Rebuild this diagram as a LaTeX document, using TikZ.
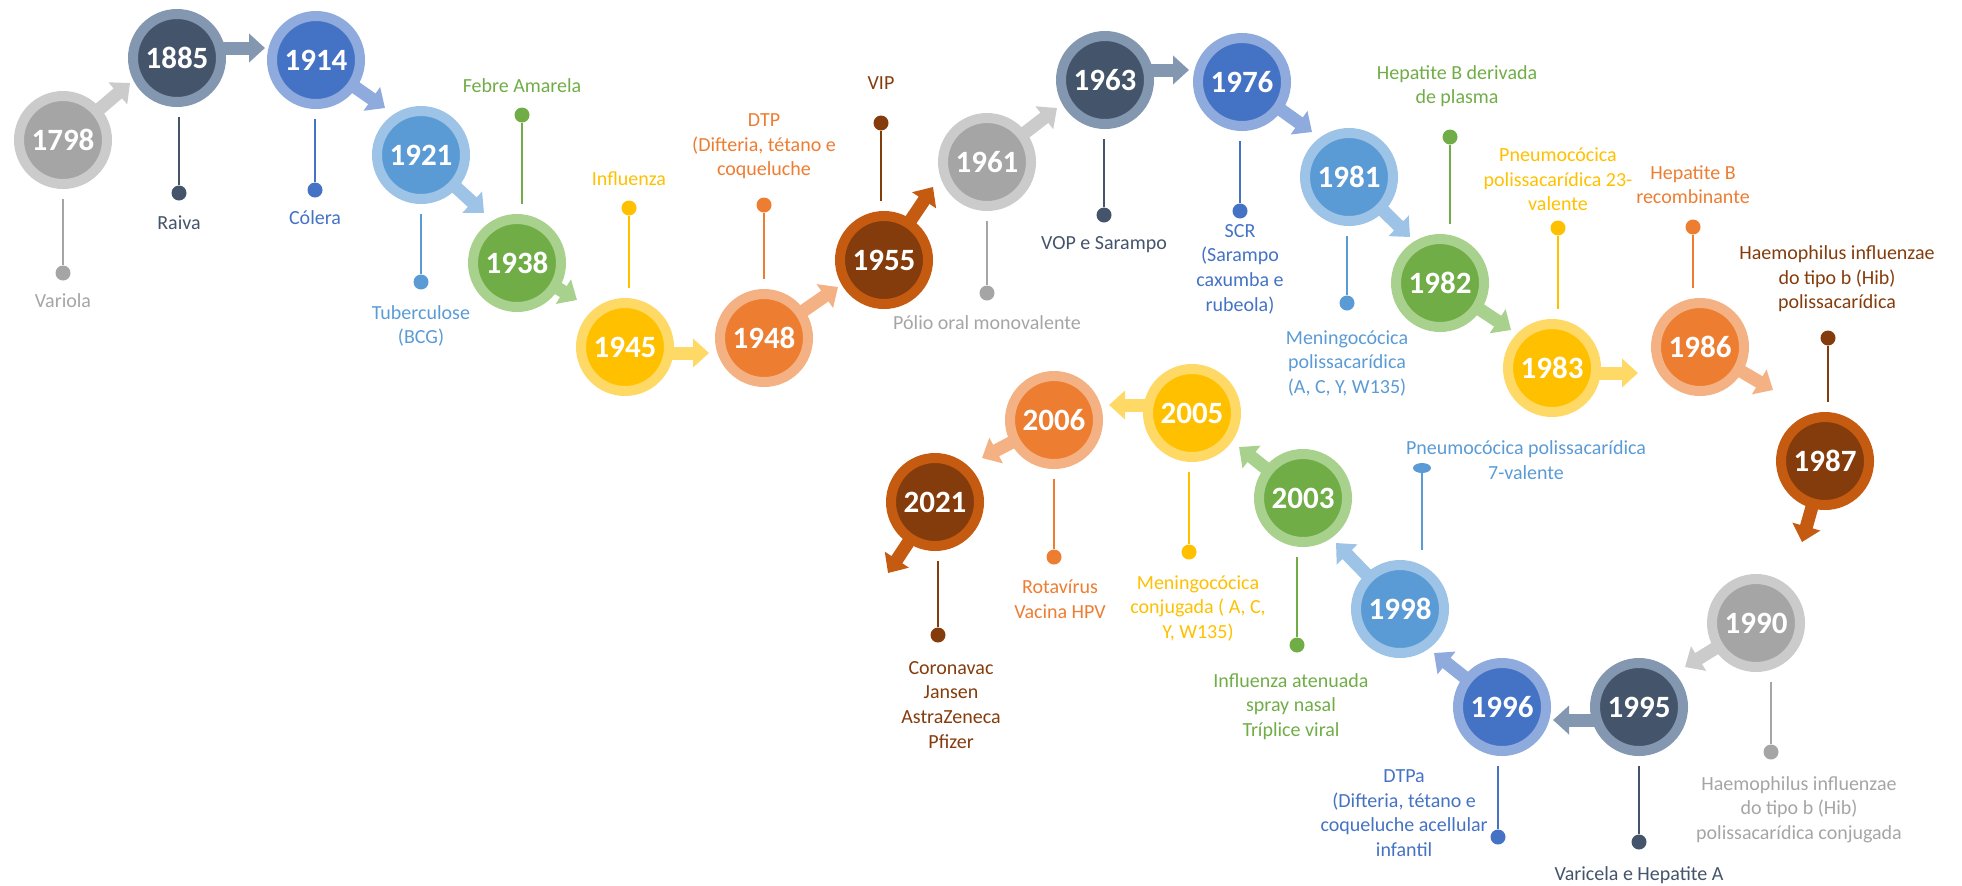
\documentclass[tikz,border=0pt]{standalone}
\usepackage{fontspec}
\setmainfont{Carlito}
\usetikzlibrary{positioning, arrows.meta, backgrounds, shapes.geometric}

\definecolor{cgray}{HTML}{A5A5A5}
\definecolor{cgrayl}{HTML}{CBCBCB}
\definecolor{cslate}{HTML}{44546A}
\definecolor{cslatel}{HTML}{8497B0}
\definecolor{cblue}{HTML}{4472C4}
\definecolor{cbluel}{HTML}{8FAADC}
\definecolor{csky}{HTML}{5B9BD5}
\definecolor{cskyl}{HTML}{9DC3E6}
\definecolor{cgreen}{HTML}{70AD47}
\definecolor{cgreenl}{HTML}{A9D18E}
\definecolor{cyellow}{HTML}{FFC000}
\definecolor{cyellowl}{HTML}{FFD966}
\definecolor{corange}{HTML}{ED7D31}
\definecolor{corangel}{HTML}{F4B183}
\definecolor{cbrown}{HTML}{843C0C}
\definecolor{cbrownl}{HTML}{C55A11}

\begin{document}
\begin{tikzpicture}[
  x=0.5pt, y=-0.5pt,
  font=\fontsize{10}{12.3}\selectfont,
  year/.style={circle, line width=5pt, minimum size=44pt, inner sep=0pt,
               text=white, font=\fontsize{15.5}{18}\selectfont\bfseries},
  yrgray/.style={year, fill=cgray, draw=cgrayl},
  yrslate/.style={year, fill=cslate, draw=cslatel},
  yrblue/.style={year, fill=cblue, draw=cbluel},
  yrsky/.style={year, fill=csky, draw=cskyl},
  yrgreen/.style={year, fill=cgreen, draw=cgreenl},
  yryellow/.style={year, fill=cyellow, draw=cyellowl},
  yrorange/.style={year, fill=corange, draw=corangel},
  yrbrown/.style={year, fill=cbrown, draw=cbrownl},
  yarrow/.style={draw=#1, line width=6.5pt, -{Triangle[width=14pt, length=8pt]}},
  stem/.style={draw=#1, line width=1pt, shorten >=5pt},
  pindot/.style={circle, fill=#1, inner sep=0pt, minimum size=7.5pt},
  lbl/.style={align=center, inner sep=1pt, text=#1},
  lblup/.style={lbl=#1, text depth=3pt},
]

\useasboundingbox (0,0) rectangle (1962,885);

\node[yrgray]   (y1798) at (63,140)   {1798};
\node[yrslate]  (y1885) at (177,58)   {1885};
\node[yrblue]   (y1914) at (316,60)   {1914};
\node[yrsky]    (y1921) at (421,155)  {1921};
\node[yrgreen]  (y1938) at (517,263)  {1938};
\node[yryellow] (y1945) at (625,347)  {1945};
\node[yrorange] (y1948) at (764,338)  {1948};
\node[yrbrown]  (y1955) at (884,260)  {1955};
\node[yrgray]   (y1961) at (987,162)  {1961};
\node[yrslate]  (y1963) at (1105,80)  {1963};
\node[yrblue]   (y1976) at (1242,82)  {1976};
\node[yrsky]    (y1981) at (1349,177) {1981};
\node[yrgreen]  (y1982) at (1440,283) {1982};
\node[yryellow] (y1983) at (1552,368) {1983};
\node[yrorange] (y1986) at (1700,347) {1986};
\node[yrbrown]  (y1987) at (1825,461) {1987};
\node[yrgray]   (y1990) at (1756,623) {1990};
\node[yrslate]  (y1995) at (1639,707) {1995};
\node[yrblue]   (y1996) at (1502,707) {1996};
\node[yrsky]    (y1998) at (1400,609) {1998};
\node[yrgreen]  (y2003) at (1303,498) {2003};
\node[yryellow] (y2005) at (1192,413) {2005};
\node[yrorange] (y2006) at (1054,420) {2006};
\node[yrbrown]  (y2021) at (935,502)  {2021};

\coordinate (t1798) at (130,83);
\coordinate (t1885) at (265,48);
\coordinate (t1914) at (385,108);
\coordinate (t1921) at (484,213);
\coordinate (t1938) at (577,300);
\coordinate (t1945) at (709,353);
\coordinate (t1948) at (838,287);
\coordinate (t1955) at (933,187);
\coordinate (t1961) at (1057,108);
\coordinate (t1963) at (1189,70);
\coordinate (t1976) at (1312,132);
\coordinate (t1981) at (1410,237);
\coordinate (t1982) at (1511,330);
\coordinate (t1983) at (1638,373);
\coordinate (t1986) at (1773,390);
\coordinate (t1987) at (1802,542);
\coordinate (t1990) at (1685,667);
\coordinate (t1995) at (1553,720);
\coordinate (t1996) at (1434,653);
\coordinate (t1998) at (1336,543);
\coordinate (t2003) at (1239,447);
\coordinate (t2005) at (1109,405);
\coordinate (t2006) at (982,458);
\coordinate (t2021) at (888,573);

\begin{scope}[on background layer]
\draw[yarrow=cgrayl]   (y1798.center) -- (t1798);
\draw[yarrow=cslatel]  (y1885 |- t1885) -- (t1885);
\draw[yarrow=cbluel]   (y1914.center) -- (t1914);
\draw[yarrow=cskyl]    (y1921.center) -- (t1921);
\draw[yarrow=cgreenl]  (y1938.center) -- (t1938);
\draw[yarrow=cyellowl] (y1945 |- t1945) -- (t1945);
\draw[yarrow=corangel] (y1948.center) -- (t1948);
\draw[yarrow=cbrownl]  (y1955.center) -- (t1955);
\draw[yarrow=cgrayl]   (y1961.center) -- (t1961);
\draw[yarrow=cslatel]  (y1963 |- t1963) -- (t1963);
\draw[yarrow=cbluel]   (y1976.center) -- (t1976);
\draw[yarrow=cskyl]    (y1981.center) -- (t1981);
\draw[yarrow=cgreenl]  (y1982.center) -- (t1982);
\draw[yarrow=cyellowl] (y1983 |- t1983) -- (t1983);
\draw[yarrow=corangel] (y1986.center) -- (t1986);
\draw[yarrow=cbrownl]  (y1987.center) -- (t1987);
\draw[yarrow=cgrayl]   (y1990.center) -- (t1990);
\draw[yarrow=cslatel]  (y1995 |- t1995) -- (t1995);
\draw[yarrow=cbluel]   (y1996.center) -- (t1996);
\draw[yarrow=cskyl]    (y1998.center) -- (t1998);
\draw[yarrow=cgreenl]  (y2003.center) -- (t2003);
\draw[yarrow=cyellowl] (y2005 |- t2005) -- (t2005);
\draw[yarrow=corangel] (y2006.center) -- (t2006);
\draw[yarrow=cbrownl]  (y2021.center) -- (t2021);
\end{scope}

\node[pindot=cgray]   (d1798) at (63,273)   {};
\node[pindot=cslate]  (d1885) at (179,193)  {};
\node[pindot=cblue]   (d1914) at (315,190)  {};
\node[pindot=csky]    (d1921) at (421,282)  {};
\node[pindot=cgreen]  (d1938) at (522,115)  {};
\node[pindot=cyellow] (d1945) at (629,208)  {};
\node[pindot=corange] (d1948) at (764,205)  {};
\node[pindot=cbrown]  (d1955) at (881,123)  {};
\node[pindot=cgray]   (d1961) at (987,293)  {};
\node[pindot=cslate]  (d1963) at (1104,215) {};
\node[pindot=cblue]   (d1976) at (1240,211) {};
\node[pindot=csky]    (d1981) at (1347,303) {};
\node[pindot=cgreen]  (d1982) at (1450,137) {};
\node[pindot=cyellow] (d1983) at (1558,228) {};
\node[pindot=corange] (d1986) at (1693,227) {};
\node[pindot=cbrown]  (d1987) at (1828,338) {};
\node[pindot=cgray]   (d1990) at (1771,752) {};
\node[pindot=cslate]  (d1995) at (1639,842) {};
\node[pindot=cblue]   (d1996) at (1498,837) {};
\node[pindot=csky, ellipse, minimum width=9pt, minimum height=5pt] (d1998) at (1422,468) {};
\node[pindot=cgreen]  (d2003) at (1297,645) {};
\node[pindot=cyellow] (d2005) at (1189,552) {};
\node[pindot=corange] (d2006) at (1054,557) {};
\node[pindot=cbrown]  (d2021) at (938,635)  {};

\draw[stem=cgray]   (d1798) -- (d1798 |- y1798.south);
\draw[stem=cslate]  (d1885) -- (d1885 |- y1885.south);
\draw[stem=cblue]   (d1914) -- (d1914 |- y1914.south);
\draw[stem=csky]    (d1921) -- (d1921 |- y1921.south);
\draw[stem=cgreen]  (d1938) -- (d1938 |- y1938.north);
\draw[stem=cyellow] (d1945) -- (d1945 |- y1945.north);
\draw[stem=corange] (d1948) -- (d1948 |- y1948.north);
\draw[stem=cbrown]  (d1955) -- (d1955 |- y1955.north);
\draw[stem=cgray]   (d1961) -- (d1961 |- y1961.south);
\draw[stem=cslate]  (d1963) -- (d1963 |- y1963.south);
\draw[stem=cblue]   (d1976) -- (d1976 |- y1976.south);
\draw[stem=csky]    (d1981) -- (d1981 |- y1981.south);
\draw[stem=cgreen]  (d1982) -- (d1982 |- y1982.north);
\draw[stem=cyellow] (d1983) -- (d1983 |- y1983.north);
\draw[stem=corange] (d1986) -- (d1986 |- y1986.north);
\draw[stem=cbrown]  (d1987) -- (d1987 |- y1987.north);
\draw[stem=cgray]   (d1990) -- (d1990 |- y1990.south);
\draw[stem=cslate]  (d1995) -- (d1995 |- y1995.south);
\draw[stem=cblue]   (d1996) -- (d1996 |- y1996.south);
\draw[stem=csky]    (d1998) -- (d1998 |- y1998.north);
\draw[stem=cgreen]  (d2003) -- (d2003 |- y2003.south);
\draw[stem=cyellow] (d2005) -- (d2005 |- y2005.south);
\draw[stem=corange] (d2006) -- (d2006 |- y2006.south);
\draw[stem=cbrown]  (d2021) -- (d2021 |- y2021.south);

\node[lbl=cgray, below=5pt of d1798] (l1798) {Variola};
\node[lbl=cslate, below=6pt of d1885] (l1885) {Raiva};
\node[lbl=cblue, below=5pt of d1914] (l1914) {Cólera};
\node[lbl=csky, below=6.5pt of d1921] (l1921) {Tuberculose\\(BCG)};
\node[lblup=cgreen, above=3pt of d1938] (l1938) {Febre Amarela};
\node[lblup=cyellow, above=3pt of d1945] (l1945) {Influenza};
\node[lblup=corange, above=6.5pt of d1948] (l1948) {DTP\\(Difteria, tétano e\\coqueluche};
\node[lblup=cbrown, above=8.5pt of d1955] (l1955) {VIP};
\node[lbl=cgray, below=6pt of d1961] (l1961) {Pólio oral monovalente};
\node[lbl=cslate, below=5.5pt of d1963] (l1963) {VOP e Sarampo};
\node[lbl=cblue, below=1.5pt of d1976] (l1976) {SCR\\(Sarampo\\caxumba e\\rubeola)};
\node[lbl=csky, below=8.5pt of d1981] (l1981) {Meningocócica\\polissacarídica\\(A, C, Y, W135)};
\node[lblup=cgreen, above=8.5pt of d1982, xshift=3.5pt] (l1982) {Hepatite B derivada\\de plasma};
\node[lblup=cyellow, above=0.5pt of d1983] (l1983) {Pneumocócica\\polissacarídica 23-\\valente};
\node[lblup=corange, above=3.5pt of d1986] (l1986) {Hepatite B\\recombinante};
\node[lblup=cbrown, above=6.5pt of d1987, xshift=4.5pt] (l1987) {Haemophilus influenzae\\do tipo b (Hib)\\polissacarídica};
\node[lbl=cgray, below=7pt of d1990, xshift=14pt] (l1990) {Haemophilus influenzae\\do tipo b (Hib)\\polissacarídica conjugada};
\node[lbl=cslate, below=7pt of d1995] (l1995) {Varicela e Hepatite A};
\node[lbl=cblue, left=0pt of d1996, yshift=12pt] (l1996) {DTPa\\(Difteria, tétano e\\coqueluche acellular\\infantil};
\node[lbl=csky] (l1998) at ([xshift=52pt, yshift=4pt]d1998) {Pneumocócica polissacarídica\\7-valente};
\node[lbl=cgreen, below=9pt of d2003, xshift=-3pt] (l2003) {Influenza atenuada\\spray nasal\\Tríplice viral};
\node[lbl=cyellow, below=6.5pt of d2005, xshift=4.5pt] (l2005) {Meningocócica\\conjugada ( A, C,\\Y, W135)};
\node[lbl=corange, below=6.5pt of d2006, xshift=3pt] (l2006) {Rotavírus\\Vacina HPV};
\node[lbl=cbrown, below=8pt of d2021, xshift=6.5pt] (l2021) {Coronavac\\Jansen\\AstraZeneca\\Pfizer};

\end{tikzpicture}
\end{document}
